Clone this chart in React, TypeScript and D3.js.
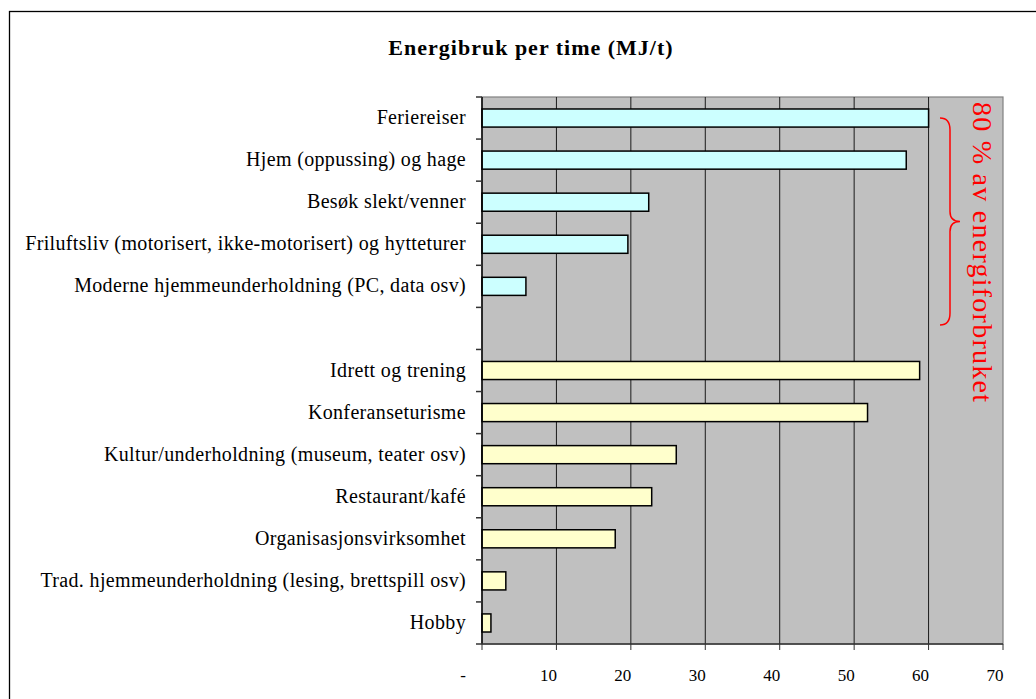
import React from "react";
import * as d3 from "d3";

const categories = [
  "Feriereiser",
  "Hjem (oppussing) og hage",
  "Besøk slekt/venner",
  "Friluftsliv (motorisert, ikke-motorisert) og hytteturer",
  "Moderne hjemmeunderholdning (PC, data osv)",
  "",
  "Idrett og trening",
  "Konferanseturisme",
  "Kultur/underholdning (museum, teater osv)",
  "Restaurant/kafé",
  "Organisasjonsvirksomhet",
  "Trad. hjemmeunderholdning (lesing, brettspill osv)",
  "Hobby",
];
const values = [60, 57, 22.4, 19.6, 5.9, null, 58.8, 51.8, 26.1, 22.8, 17.9, 3.2, 1.2];
const groups = ["a", "a", "a", "a", "a", null, "b", "b", "b", "b", "b", "b", "b"];
const xTicks = [0, 10, 20, 30, 40, 50, 60, 70];
const xTickLabels = ["-", "10", "20", "30", "40", "50", "60", "70"];
const title = "Energibruk per time (MJ/t)";
const annotation = "80 % av energiforbruket";

export default function App() {
  const W = 1036, H = 699;
  const left = 482, right = 1003, top = 97, bottom = 644;
  const x = d3.scaleLinear().domain([0, 70]).range([left, right]);
  const keys = categories.map((c, i) => i + ":" + c);
  const y = d3.scaleBand<string>().domain(keys).range([top, bottom]).paddingInner(0.57).paddingOuter(0.285);
  const step = y.step();
  const bw = y.bandwidth();
  const colors: Record<string, string> = { a: "#CCFFFF", b: "#FFFFCC" };
  const boundaries = d3.range(categories.length + 1).map((i) => top + i * step);

  const bx0 = 940, bx1 = 950, bx2 = 960, by0 = 118, by1 = 325, bym = (by0 + by1) / 2;
  const brace = `M${bx0},${by0} Q${bx1},${by0} ${bx1},${by0 + 12} L${bx1},${bym - 10} Q${bx1},${bym} ${bx2},${bym} Q${bx1},${bym} ${bx1},${bym + 10} L${bx1},${by1 - 12} Q${bx1},${by1} ${bx0},${by1}`;

  const serif = "Liberation Serif";

  return (
    <svg width={W} height={H} style={{ position: "absolute", left: 0, top: 0, fontFamily: serif }}>
      <rect x={0} y={0} width={W} height={H} fill="#fff" />
      <rect x={9.5} y={11.5} width={1040} height={700} fill="none" stroke="#000" strokeWidth={1.3} />
      <text x={531} y={55} textAnchor="middle" fontWeight="bold" fontSize={22} letterSpacing={1} fontFamily={serif}>{title}</text>
      <rect x={left} y={top} width={right - left} height={bottom - top} fill="#C0C0C0" stroke="#808080" strokeWidth={1.2} />
      {xTicks.slice(1, -1).map((t) => (
        <line key={t} x1={x(t)} x2={x(t)} y1={top} y2={bottom} stroke="#1a1a1a" strokeWidth={1} />
      ))}
      {categories.map((c, i) => {
        const v = values[i];
        const g = groups[i];
        if (v == null || g == null) return null;
        const yy = y(keys[i])!;
        return (
          <rect key={keys[i]} x={x(0)} y={yy} width={x(v) - x(0)} height={bw} fill={colors[g]} stroke="#000" strokeWidth={1.5} />
        );
      })}
      <line x1={left} x2={left} y1={top} y2={bottom} stroke="#000" strokeWidth={1.5} />
      <line x1={left} x2={right} y1={bottom} y2={bottom} stroke="#333" strokeWidth={1.5} />
      {boundaries.map((b, i) => (
        <line key={i} x1={left - 6} x2={left} y1={b} y2={b} stroke="#333" strokeWidth={1.5} />
      ))}
      {xTicks.map((t) => (
        <line key={t} x1={x(t)} x2={x(t)} y1={bottom} y2={bottom + 6} stroke="#333" strokeWidth={1} />
      ))}
      {xTicks.map((t, i) => (
        <text key={t} x={i === 0 ? 463 : x(t) - 8} y={681} textAnchor="middle" fontSize={17} fontFamily={serif}>{xTickLabels[i]}</text>
      ))}
      {categories.map((c, i) => (
        <text key={keys[i]} x={466} y={y(keys[i])! + bw / 2 + 6} textAnchor="end" fontSize={20} letterSpacing={0.35} fontFamily={serif}>{c}</text>
      ))}
      <path d={brace} fill="none" stroke="#FF0000" strokeWidth={1.5} />
      <text transform={`translate(973,102) rotate(90)`} fill="#FF0000" fontSize={28} fontFamily={serif} textLength={300} lengthAdjust="spacing">{annotation}</text>
    </svg>
  );
}
